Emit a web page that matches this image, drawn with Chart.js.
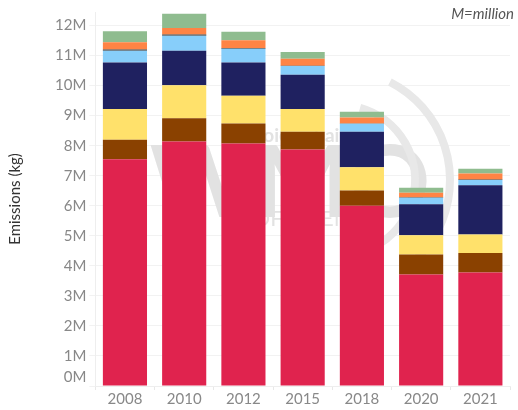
<!DOCTYPE html>
<html>
<head>
<meta charset="utf-8">
<script src="https://cdn.jsdelivr.net/npm/chart.js@4"></script>
<style>
  html, body { margin: 0; padding: 0; background: #fff; }
  #wrap { position: relative; width: 518px; height: 410px; }
  #note { position: absolute; right: 4px; top: 4px; font: italic 15px Lato, sans-serif; color: #555; }
</style>
</head>
<body>
<div id="wrap">
  <canvas id="emissions" width="518" height="410"></canvas>
  <div id="note">M=million</div>
</div>
<script>
const years = ['2008', '2010', '2012', '2015', '2018', '2020', '2021'];

// values in millions of kg, bottom segment first
const seriesRed    = [7.55, 8.14, 8.07, 7.87, 6.00, 3.71, 3.78];
const seriesBrown  = [0.65, 0.77, 0.67, 0.59, 0.51, 0.67, 0.65];
const seriesYellow = [1.02, 1.10, 0.92, 0.76, 0.77, 0.64, 0.61];
const seriesNavy   = [1.55, 1.15, 1.11, 1.14, 1.18, 1.03, 1.64];
const seriesBlue   = [0.39, 0.50, 0.46, 0.29, 0.27, 0.22, 0.18];
const seriesDark   = [0.04, 0.04, 0.02, 0.01, 0.01, 0.01, 0.01];
const seriesOrange = [0.24, 0.22, 0.26, 0.23, 0.20, 0.15, 0.20];
const seriesGreen  = [0.37, 0.47, 0.28, 0.23, 0.19, 0.17, 0.16];

const yTicks = [0, 1, 2, 3, 4, 5, 6, 7, 8, 9, 10, 11, 12];

const layers = [
  { label: 'Red', data: seriesRed, color: '#E0234E' },
  { label: 'Brown', data: seriesBrown, color: '#8A4100' },
  { label: 'Yellow', data: seriesYellow, color: '#FFE16B' },
  { label: 'Navy', data: seriesNavy, color: '#1F2160' },
  { label: 'Light blue', data: seriesBlue, color: '#87CEFA' },
  { label: 'Dark', data: seriesDark, color: '#3C3C3C' },
  { label: 'Orange', data: seriesOrange, color: '#FF8445' },
  { label: 'Green', data: seriesGreen, color: '#8FBC8F' }
];

// faint logo drawn behind the bars
const watermark = {
  id: 'watermark',
  beforeDatasetsDraw(chart) {
    const c = chart.ctx;
    c.save();
    c.fillStyle = '#e2e2e2';
    c.strokeStyle = '#e8e8e8';
    c.textAlign = 'center';
    c.textBaseline = 'middle';
    c.font = 'bold 100px Lato, sans-serif';
    c.fillText('WMO', 290, 185);
    c.font = 'bold 19px Lato, sans-serif';
    c.fillText('voice of air', 300, 136);
    c.font = '22px Lato, sans-serif';
    c.fillText('TS OF SCIENCE', 300, 219);
    c.lineWidth = 8;
    c.beginPath();
    c.arc(340, 180, 75, -1.3, 1.1);
    c.stroke();
    c.beginPath();
    c.arc(340, 180, 110, -1.1, 0.9);
    c.stroke();
    c.restore();
  }
};

// the zero label sits a little above its grid line
const zeroLabel = {
  id: 'zeroLabel',
  afterDraw(chart) {
    const y = chart.scales.y;
    const c = chart.ctx;
    c.save();
    c.font = '15px Lato, sans-serif';
    c.fillStyle = '#888';
    c.textAlign = 'right';
    c.textBaseline = 'middle';
    c.fillText('0M', y.right - 9, y.getPixelForValue(0) - 9);
    c.restore();
  }
};

const ctx = document.getElementById('emissions').getContext('2d');
const emissionsChart = new Chart(ctx, {
  type: 'bar',
  data: {
    labels: years,
    datasets: layers.map(l => ({
      label: l.label,
      data: l.data,
      backgroundColor: l.color,
      borderWidth: 0
    }))
  },
  options: {
    responsive: false,
    animation: false,
    layout: { padding: { top: 0, right: 8, left: 6, bottom: 2 } },
    barPercentage: 0.745,
    categoryPercentage: 1,
    plugins: {
      legend: { display: false },
      tooltip: { enabled: false }
    },
    scales: {
      x: {
        stacked: true,
        grid: { drawOnChartArea: false, color: '#e8e8e8', tickLength: 4 },
        border: { color: '#eeeeee' },
        ticks: { color: '#888', font: { family: 'Lato', size: 15 }, padding: 0 }
      },
      y: {
        stacked: true,
        min: 0,
        max: 12.45,
        afterBuildTicks(scale) {
          scale.ticks = yTicks.map(v => ({ value: v }));
        },
        grid: { color: '#f2f2f2', tickLength: 6 },
        border: { color: '#eeeeee' },
        ticks: {
          color: '#888',
          font: { family: 'Lato', size: 15 },
          padding: 3,
          callback: v => (v === 0 ? '' : v + 'M')
        },
        title: {
          display: true,
          text: 'Emissions (kg)',
          color: '#333',
          font: { family: 'Lato', size: 15 },
          padding: { top: 0, bottom: 28 }
        }
      }
    }
  },
  plugins: [watermark, zeroLabel]
});
</script>
</body>
</html>
